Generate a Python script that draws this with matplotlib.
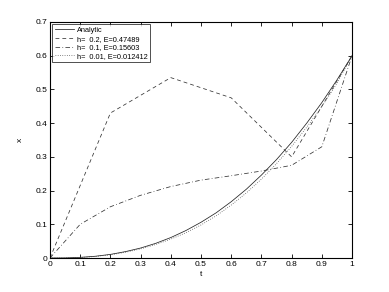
import matplotlib
matplotlib.use("Agg")
import matplotlib.pyplot as plt

# analytic solution
t_exact = [0.0, 0.05, 0.1, 0.15, 0.2, 0.25, 0.3, 0.35, 0.4, 0.45, 0.5,
           0.55, 0.6, 0.65, 0.7, 0.75, 0.8, 0.85, 0.9, 0.95, 1.0]
x_exact = [0.0, 0.0003, 0.0019, 0.0052, 0.0107, 0.019, 0.0296, 0.0435, 0.0607, 0.0815, 0.106,
           0.134, 0.167, 0.204, 0.246, 0.292, 0.343, 0.40, 0.461, 0.528, 0.6]

# h = 0.2
t_h02 = [0.0, 0.2, 0.4, 0.6, 0.8, 1.0]
x_h02 = [0.0, 0.43, 0.535, 0.475, 0.30, 0.6]

# h = 0.1
t_h01 = [0.0, 0.1, 0.2, 0.3, 0.4, 0.5, 0.6, 0.7, 0.8, 0.9, 1.0]
x_h01 = [0.0, 0.10, 0.152, 0.186, 0.212, 0.231, 0.244, 0.258, 0.275, 0.33, 0.6]

# h = 0.01
t_h001 = [0.0, 0.05, 0.1, 0.15, 0.2, 0.25, 0.3, 0.35, 0.4, 0.45, 0.5,
          0.55, 0.6, 0.65, 0.7, 0.75, 0.8, 0.85, 0.9, 0.95, 1.0]
x_h001 = [0.0, 0.0002, 0.0015, 0.0045, 0.0095, 0.017, 0.027, 0.040, 0.056, 0.075, 0.098,
          0.125, 0.157, 0.193, 0.234, 0.280, 0.331, 0.388, 0.449, 0.518, 0.6]

labels = ["Analytic", "h=  0.2, E=0.47489", "h=  0.1, E=0.15603", "h=  0.01, E=0.012412"]

plt.rcParams["font.family"] = ["Liberation Sans", "DejaVu Sans"]

fig = plt.figure(figsize=(3.89, 2.92), dpi=100)
ax = fig.add_axes([0.1285, 0.1164, 0.7765, 0.8083])

lw = 0.55
ax.plot(t_exact, x_exact, color="#222222", lw=lw, linestyle="-", label=labels[0])
ax.plot(t_h02, x_h02, color="#333333", lw=lw, linestyle=(0, (5, 4)), label=labels[1])
ax.plot(t_h01, x_h01, color="#333333", lw=lw, linestyle=(0, (6, 3, 1, 3)), label=labels[2])
ax.plot(t_h001, x_h001, color="#444444", lw=lw, linestyle=(0, (1, 2)), label=labels[3])

ax.set_xlim(0, 1)
ax.set_ylim(0, 0.7)
ax.set_xticks([0, 0.1, 0.2, 0.3, 0.4, 0.5, 0.6, 0.7, 0.8, 0.9, 1])
ax.set_xticklabels(["0", "0.1", "0.2", "0.3", "0.4", "0.5", "0.6", "0.7", "0.8", "0.9", "1"])
ax.set_yticks([0, 0.1, 0.2, 0.3, 0.4, 0.5, 0.6, 0.7])
ax.set_yticklabels(["0", "0.1", "0.2", "0.3", "0.4", "0.5", "0.6", "0.7"])
ax.tick_params(direction="in", length=3, width=0.6, labelsize=6, top=True, right=True, pad=2)
for s in ax.spines.values():
    s.set_linewidth(0.8)

ax.set_xlabel("t", fontsize=6, labelpad=2)
ax.set_ylabel("x", fontsize=6, labelpad=8)

leg = ax.legend(loc="upper left", fontsize=5.3, frameon=True, fancybox=False,
                edgecolor="black", borderpad=0.35, labelspacing=0.2,
                handlelength=2.6, handletextpad=0.4, borderaxespad=0.3)
leg.get_frame().set_linewidth(0.6)

fig.savefig("out.png", dpi=100)
